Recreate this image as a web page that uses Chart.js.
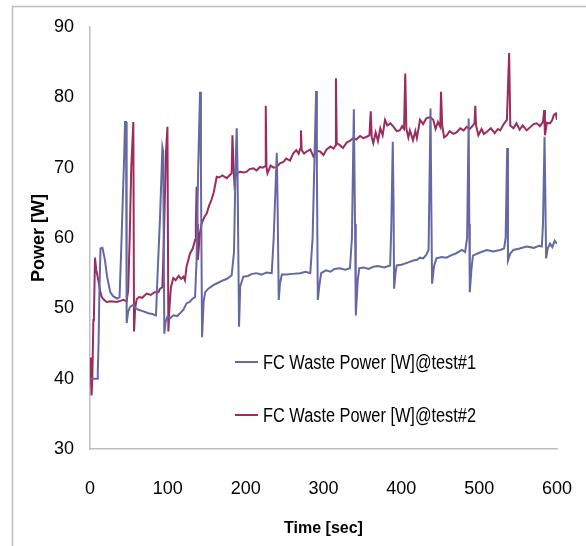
<!DOCTYPE html>
<html>
<head>
<meta charset="utf-8">
<script src="https://cdn.jsdelivr.net/npm/chart.js@4"></script>
<style>
  html, body { margin: 0; padding: 0; background: #fff; }
  #wrap { width: 586px; height: 546px; position: relative; }
</style>
</head>
<body>
<div id="wrap"><canvas id="powerChart" width="586" height="546"></canvas></div>
<script>
// test#1 (blue) - time [sec] and power [W]
var time1 = [0, 9, 10, 11, 12, 13.5, 16, 19, 22, 26, 30, 35, 38, 40, 42, 44, 45, 46.3, 47.1, 49, 51.5, 55.6, 58, 62, 68, 75, 80, 84.8,
  86.5, 90, 93, 94, 95.5, 97, 99.4, 103, 107, 112, 115.7, 120, 124, 128, 132, 135, 137, 139, 141.4, 142.5, 144, 146, 148, 152,
  158.5, 164, 171.4, 176, 182, 185, 187, 188.5, 189.5, 191.5, 193, 197, 203, 208, 214, 220, 227, 233.5, 236, 240, 241, 242.5,
  244, 246.5, 252, 260, 270, 277, 283, 286, 290.5, 291.5, 292.7, 295, 297, 303, 309, 314, 321, 328, 334, 336.5, 339, 340.5,
  341.5, 344, 346, 352, 358, 364, 370, 378, 385.6, 387, 389, 390, 390.7, 392.5, 394, 400, 408, 415.5, 420, 424, 428, 432, 435,
  437.5, 438.5, 439.5, 442, 445, 452, 458, 463, 470, 478, 482, 484.5, 486.5, 487.3, 488, 490, 492, 500, 510, 518, 527, 532,
  534, 536, 537, 540, 544, 552, 561, 570, 577, 580.5, 582, 584, 585, 586, 588, 591, 594, 597, 600];
var power1 = [40, 40, 41, 45, 52, 58.5, 58.6, 57, 54.5, 52.3, 51.7, 51.4, 51.6, 58, 65, 72, 76.5, 76.5, 47.9, 49.5, 50.2, 50.5, 50.1, 49.8, 49.6, 49.3, 49.2, 49,
  54, 63, 72.9, 72.3, 46.4, 48, 48.8, 48.6, 49, 48.9, 49.3, 49.8, 50.7, 50.9, 51.4, 51.6, 57, 70, 80.8, 70, 45.9, 51, 52.3, 52.8,
  53.3, 53.6, 54, 54.2, 54.7, 58, 70, 75.6, 70, 47.4, 53.1, 54.5, 54.6, 54.9, 55, 54.8, 55.1, 55, 60, 72.1, 65, 51.2,
  53.5, 54.8, 54.8, 54.9, 55, 55.2, 55, 60, 80.9, 70, 51.2, 53.5, 55, 55.4, 55.2, 55.6, 55.7, 55.5, 55.7, 60, 78.3, 62,
  49, 54, 55.7, 55.8, 55.6, 55.9, 56, 55.8, 56.1, 61, 73.7, 65, 52.8, 55, 56.1, 56.2, 56.5, 56.8, 56.9, 57.2, 57.1, 57.6, 58.3,
  78.4, 65, 53.5, 56, 57.1, 57.3, 57.2, 57.5, 57.8, 58.3, 58, 60, 77, 62, 52.3, 55.5, 57.5, 57.9, 58.3, 58.1, 58.3, 58.5,
  60, 72.8, 56.8, 57.8, 58.3, 58.5, 58.8, 58.6, 58.9, 58.8, 62, 74.4, 66, 57.1, 58.5, 59.2, 58.7, 59.6, 59.2];

// test#2 (red)
var time2 = [0, 1, 2, 3, 4.3, 5, 6.4, 8, 10.7, 13, 15, 18, 21.4, 27, 34.3, 40, 43, 47, 49, 51, 53, 55.7, 56.6, 58, 60, 63, 67, 72.8,
  78, 83, 88, 90, 93, 95, 97.5, 99.5, 100.7, 102, 104, 107, 110, 114, 117, 120, 122, 124, 128.5, 132, 135, 136, 137, 138,
  138.6, 141, 143.5, 147, 150, 153, 156, 159, 162.8, 166, 170, 175.7, 180, 182, 183, 184.5, 185.5, 188, 193, 197, 201, 205,
  210, 214, 218.5, 222, 225, 225.8, 226.8, 228, 232, 236, 240, 244, 248.5, 252, 257, 261, 265, 268, 270, 271, 272, 275,
  278.5, 283, 287, 291, 295.6, 300, 304, 309, 313, 315.5, 316, 317, 321, 325, 330, 334, 338, 342, 347, 351, 355.5, 359,
  360.7, 362, 364, 367, 370, 373, 376, 379, 382, 386, 390, 394, 398, 401, 403.5, 405, 406.5, 409, 411, 415, 418, 420, 424,
  428, 432, 437, 441, 444, 447, 450, 451, 452.5, 455, 458.5, 462, 467, 471, 475.6, 480, 484, 488, 492, 494, 495, 496, 499,
  503, 506, 510, 515, 520, 524, 527, 531, 535.6, 538.5, 540, 544, 548, 552, 556, 561, 566, 570, 574, 578, 582, 583.5,
  584.5, 587, 591, 594, 596, 598.5, 600];
var power2 = [43, 41, 37.6, 40, 48.3, 48.6, 57.2, 55.5, 54, 52.5, 51.6, 51.2, 50.9, 51, 50.9, 51.1, 51.2, 51, 52.5, 60, 70, 76.5, 46.7, 50, 51.3, 51.6, 51.5, 52.1,
  51.9, 52.3, 52.3, 52.8, 53, 60, 72, 75.8, 46.7, 50, 53, 54.3, 54, 54.6, 54.2, 54.5, 54, 55.9, 57.8, 58.5, 59.7, 62, 67.3, 62,
  56.9, 60.5, 62.1, 63, 63.5, 64.6, 65.4, 66.5, 68.7, 68.6, 68.9, 68.5, 69, 69.2, 74.6, 70, 67.8, 69.2, 69.4, 69.3, 69.4, 69.8,
  69.9, 69.6, 70.1, 70, 70.2, 78.8, 70, 69.2, 70.3, 70, 70.1, 70.6, 70.8, 71.3, 71, 72, 72.5, 72, 72.7, 75.3, 72.5, 72,
  72.3, 72.6, 71.6, 72.4, 72.3, 71.8, 72.6, 73, 72.7, 73.2, 82.7, 73.5, 73.2, 72.8, 73.6, 73.8, 74.2, 74, 74.5, 74.2, 74.4, 74.6,
  78, 74.3, 73.5, 75, 73.8, 75.6, 74.6, 76.8, 76, 76.3, 75.8, 75.2, 75.3, 75.9, 75.5, 83.4, 75.5, 74.3, 75.3, 73.9, 75.2, 74.2, 76.8,
  76.2, 77, 77.2, 76.8, 75.5, 76.5, 75.8, 80.8, 76, 74.3, 74.6, 75.2, 74.8, 75, 75.6, 75.3, 75.8, 75.5, 76, 76.3, 78.8, 76, 74.6,
  75.5, 74.8, 75.1, 75.6, 74.9, 75.5, 75.3, 76.1, 76.8, 86.3, 76, 75.6, 76.3, 75.4, 76, 75.3, 75.8, 76.2, 76.3, 75.9, 76.5, 78.2,
  74.6, 76.4, 76.3, 76.8, 77.5, 77.7, 76.8];

var seriesNames = ['FC Waste Power [W]@test#1', 'FC Waste Power [W]@test#2'];
var seriesColors = ['#6568a2', '#9a2c5e'];

function toPoints(xs, ys) {
  return xs.map(function (x, i) { return { x: x, y: ys[i] }; });
}

var FONT = '"Liberation Sans", Arial, sans-serif';

// white background, outer frame and the hand placed legend
var framePlugin = {
  id: 'frame',
  beforeDraw: function (chart) {
    var c = chart.ctx;
    c.save();
    c.fillStyle = '#fff';
    c.fillRect(0, 0, chart.width, chart.height);
    c.strokeStyle = '#bdbdbd';
    c.lineWidth = 1.5;
    c.beginPath();
    c.moveTo(12.5, chart.height);
    c.lineTo(12.5, 6.5);
    c.lineTo(chart.width, 6.5);
    c.stroke();
    c.restore();
  },
  afterDraw: function (chart) {
    var c = chart.ctx;
    var rows = [362, 415];
    c.save();
    c.font = '20px ' + FONT;
    c.textBaseline = 'middle';
    rows.forEach(function (y, i) {
      c.strokeStyle = seriesColors[i];
      c.lineWidth = 2;
      c.beginPath();
      c.moveTo(235, y);
      c.lineTo(258, y);
      c.stroke();
      // narrow the text a little, the source font is a condensed one
      var w = c.measureText(seriesNames[i]).width;
      c.save();
      c.translate(263, y + 1);
      c.scale(213 / w, 1);
      c.fillStyle = '#000';
      c.fillText(seriesNames[i], 0, 0);
      c.restore();
    });
    c.restore();
  }
};

var ctx = document.getElementById('powerChart').getContext('2d');
var powerChart = new Chart(ctx, {
  type: 'line',
  data: {
    datasets: [{
      label: seriesNames[0],
      data: toPoints(time1, power1),
      borderColor: seriesColors[0],
      borderWidth: 2,
      pointRadius: 0,
      tension: 0
    }, {
      label: seriesNames[1],
      data: toPoints(time2, power2),
      borderColor: seriesColors[1],
      borderWidth: 2,
      pointRadius: 0,
      tension: 0
    }]
  },
  options: {
    responsive: false,
    animation: false,
    layout: {
      padding: { left: 0, right: 29, top: 27, bottom: 0 }
    },
    plugins: {
      legend: { display: false },
      tooltip: { enabled: false }
    },
    scales: {
      x: {
        type: 'linear',
        min: 0,
        max: 600,
        afterFit: function (s) { s.height = 97; s.paddingLeft = 0; s.paddingRight = 0; },
        grid: { display: false },
        border: { color: '#bfbfbf', width: 1.5 },
        ticks: {
          stepSize: 100,
          padding: 21,
          color: '#000',
          font: { family: FONT, size: 18 }
        },
        title: {
          display: true,
          text: 'Time [sec]',
          color: '#000',
          font: { family: FONT, size: 16, weight: 'bold' },
          padding: { top: 0, bottom: 8 }
        }
      },
      y: {
        min: 30,
        max: 90,
        afterFit: function (s) { s.width = 90; s.paddingTop = 0; s.paddingBottom = 0; },
        grid: { display: false },
        border: { color: '#bfbfbf', width: 1.5 },
        ticks: {
          stepSize: 10,
          padding: 8,
          color: '#000',
          font: { family: FONT, size: 18 }
        },
        title: {
          display: true,
          text: 'Power [W]',
          color: '#000',
          font: { family: FONT, size: 18, weight: 'bold' },
          padding: { top: 28, bottom: 0 }
        }
      }
    }
  },
  plugins: [framePlugin]
});
</script>
</body>
</html>
